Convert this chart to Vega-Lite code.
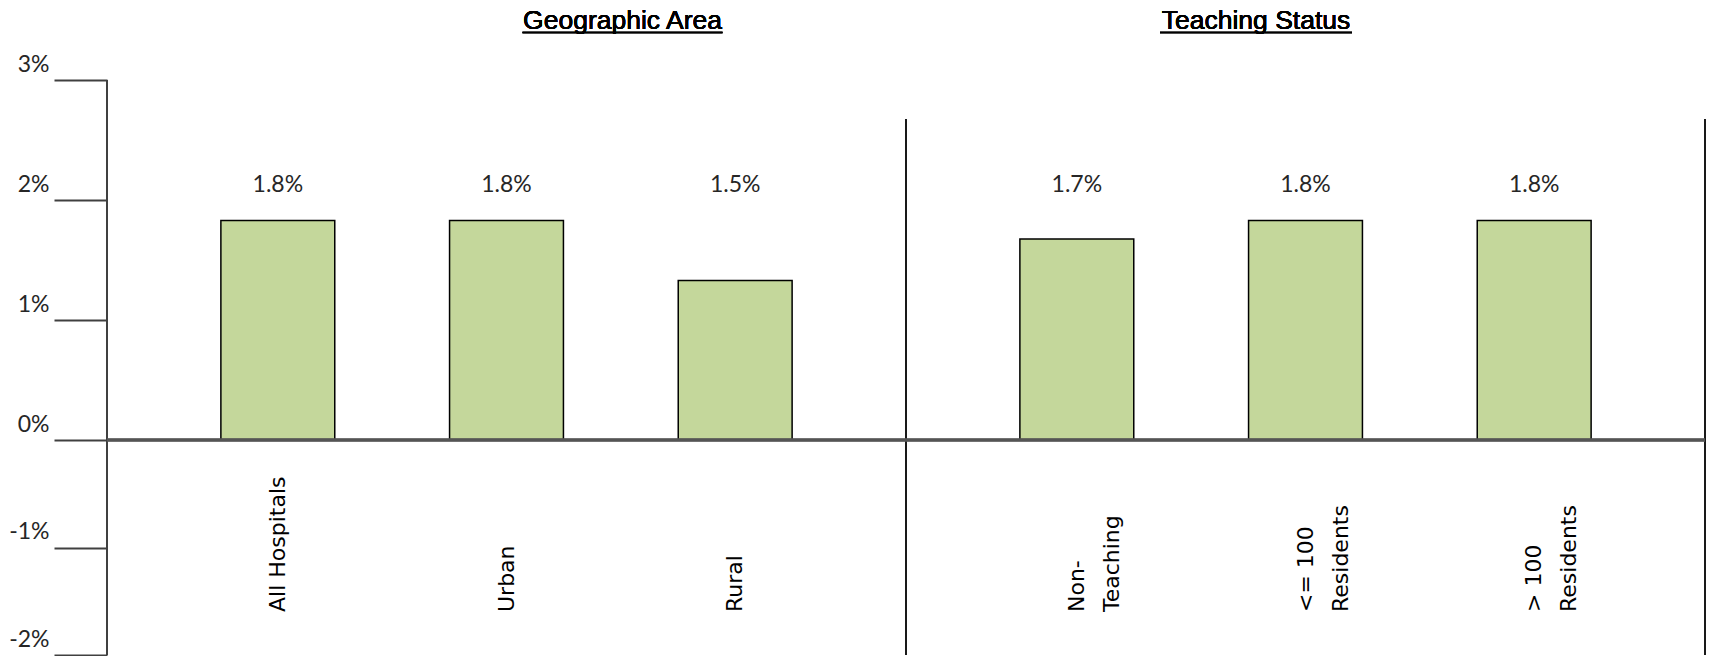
{
  "$schema": "https://vega.github.io/schema/vega-lite/v6.json",
  "width": 1710,
  "height": 656,
  "autosize": {"type": "fit", "contains": "padding"},
  "padding": {"left": 0, "top": 0, "right": 3, "bottom": 0},
  "background": "white",
  "config": {"view": {"stroke": null}},
  "data": {
    "values": [
      {"group": "Geographic Area", "slot": "1", "name": "All Hospitals", "value": 1.83, "label": "1.8%"},
      {"group": "Geographic Area", "slot": "2", "name": "Urban", "value": 1.83, "label": "1.8%"},
      {"group": "Geographic Area", "slot": "3", "name": "Rural", "value": 1.33, "label": "1.5%"},
      {"group": "Teaching Status", "slot": "1", "name": "Non-\nTeaching", "value": 1.675, "label": "1.7%"},
      {"group": "Teaching Status", "slot": "2", "name": "<= 100\nResidents", "value": 1.83, "label": "1.8%"},
      {"group": "Teaching Status", "slot": "3", "name": "> 100\nResidents", "value": 1.83, "label": "1.8%"}
    ]
  },
  "layer": [
    {
      "mark": {"type": "bar", "color": "#C4D79B", "stroke": "#000000", "strokeWidth": 1.5},
      "encoding": {
        "x": {"field": "group", "type": "nominal", "axis": null,
              "scale": {"domain": ["Geographic Area", "Teaching Status"], "paddingInner": 0, "paddingOuter": 0}},
        "xOffset": {"field": "slot", "type": "nominal",
                    "scale": {"domain": ["1", "2", "3"], "paddingInner": 0.502, "paddingOuter": 0.498}},
        "y": {"field": "value", "type": "quantitative", "title": null,
              "scale": {"domain": [-2, 0, 3.6667], "range": [655, 440, 0], "zero": false, "nice": false},
              "axis": {"values": [-2, -1, 0, 1, 2, 3], "labelExpr": "datum.value + '%'", "domain": false, "grid": false,
                       "tickSize": 53, "tickWidth": 2, "tickColor": "#404040", "labelPadding": 5,
                       "labelBaseline": "alphabetic", "labelOffset": -9, "labelFont": "Lato", "labelFontSize": 23,
                       "labelColor": "#262626", "minExtent": 107, "maxExtent": 107}},
        "y2": {"datum": 0}
      }
    },
    {
      "mark": {"type": "text", "font": "Lato", "fontSize": 23, "color": "#262626", "baseline": "alphabetic", "align": "center"},
      "encoding": {
        "x": {"field": "group", "type": "nominal", "axis": null},
        "xOffset": {"field": "slot", "type": "nominal"},
        "y": {"datum": 2.07, "type": "quantitative"},
        "text": {"field": "label"}
      }
    },
    {
      "mark": {"type": "text", "font": "DejaVu Sans", "fontSize": 22, "color": "#000000", "angle": 270,
               "align": "left", "baseline": "middle", "lineBreak": "\n", "lineHeight": 35},
      "encoding": {
        "x": {"field": "group", "type": "nominal", "axis": null},
        "xOffset": {"field": "slot", "type": "nominal"},
        "y": {"datum": -1.6, "type": "quantitative"},
        "text": {"field": "name"}
      }
    },
    {
      "mark": {"type": "rule", "color": "#404040", "strokeWidth": 2},
      "encoding": {
        "x": {"datum": "Geographic Area", "bandPosition": 0},
        "y": {"datum": -2, "type": "quantitative"},
        "y2": {"datum": 3}
      }
    },
    {
      "mark": {"type": "rule", "color": "#1a1a1a", "strokeWidth": 1.5},
      "encoding": {
        "x": {"datum": "Teaching Status", "bandPosition": 0},
        "y": {"datum": -2, "type": "quantitative"},
        "y2": {"datum": 2.675}
      }
    },
    {
      "mark": {"type": "rule", "color": "#1a1a1a", "strokeWidth": 1.5},
      "encoding": {
        "x": {"datum": "Teaching Status", "bandPosition": 1},
        "y": {"datum": -2, "type": "quantitative"},
        "y2": {"datum": 2.675}
      }
    },
    {
      "mark": {"type": "rule", "color": "#555555", "strokeWidth": 2.5},
      "encoding": {
        "y": {"datum": 0, "type": "quantitative"}
      }
    },
    {
      "mark": {"type": "text", "font": "Liberation Sans", "fontSize": 26.5, "fontWeight": "normal", "color": "#000000", "baseline": "alphabetic", "align": "center", "dx": 116},
      "encoding": {
        "x": {"datum": "Geographic Area"},
        "y": {"datum": 3.425, "type": "quantitative"},
        "text": {"value": "Geographic Area"}
      }
    },
    {
      "mark": {"type": "text", "font": "Liberation Sans", "fontSize": 26.5, "fontWeight": "normal", "color": "#000000", "baseline": "alphabetic", "align": "center", "dx": -49.5},
      "encoding": {
        "x": {"datum": "Teaching Status"},
        "y": {"datum": 3.425, "type": "quantitative"},
        "text": {"value": "Teaching Status"}
      }
    },
    {
      "mark": {"type": "tick", "orient": "horizontal", "size": 200, "thickness": 1.5, "color": "#000000", "xOffset": 116},
      "encoding": {
        "x": {"datum": "Geographic Area"},
        "y": {"datum": 3.395, "type": "quantitative"}
      }
    },
    {
      "mark": {"type": "tick", "orient": "horizontal", "size": 192, "thickness": 1.5, "color": "#000000", "xOffset": -49.5},
      "encoding": {
        "x": {"datum": "Teaching Status"},
        "y": {"datum": 3.395, "type": "quantitative"}
      }
    }
  ]
}
